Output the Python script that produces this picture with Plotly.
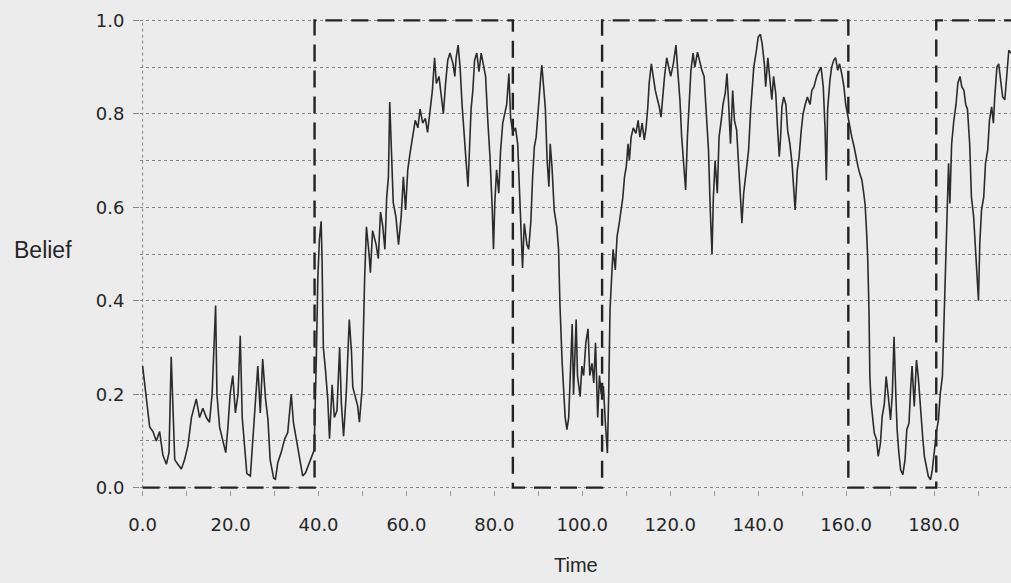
import plotly.graph_objects as go

# Posterior belief trace over time
time = [
    0.0, 0.8, 1.6, 2.35, 3.1, 3.86, 4.6, 5.4, 6.0, 6.5, 6.9, 7.3, 8.0, 8.8, 9.55,
    10.3, 11.1, 12.2, 12.95, 13.7, 14.5, 15.2, 15.8, 16.6, 16.9, 17.5, 18.25, 18.9,
    19.4, 19.9, 20.5, 21.1, 21.7, 22.2, 22.65, 23.2, 23.7, 24.5, 25.1, 25.8, 26.2,
    26.75, 27.3, 27.95, 28.5, 29.0, 29.8, 30.2, 30.75, 31.5, 32.3, 33.0, 33.8, 34.3,
    34.9, 35.7, 36.4, 37.05, 37.6, 38.3, 39.0, 39.5, 39.85, 40.2, 40.6, 40.8, 41.1,
    41.6, 42.1, 42.5, 43.1, 43.6, 44.2, 44.8, 45.2, 45.7, 46.3, 47.0, 47.5, 47.8,
    48.4, 48.9, 49.3, 49.9, 50.5, 50.9, 51.5, 51.8, 52.3, 53.1, 53.6, 54.1, 54.6,
    55.1, 55.5, 55.9, 56.2, 56.6, 57.0, 57.6, 58.2, 58.8, 59.3, 59.8, 60.3, 60.8,
    61.4, 62.0, 62.6, 63.1, 63.7, 64.3, 64.8, 65.4, 65.9, 66.4, 66.8, 67.4, 67.9,
    68.4, 68.9, 69.4, 69.9, 70.6, 71.0, 71.3, 71.75, 72.2, 72.65, 73.2, 73.6, 74.0,
    74.3, 74.7, 75.1, 75.5, 76.0, 76.5, 77.0, 77.5, 78.0, 78.5, 79.0, 79.5, 79.8,
    80.1, 80.5, 81.0, 81.4, 81.9, 82.4, 82.8, 83.3, 83.7, 84.2, 84.8, 85.3, 85.7,
    86.0, 86.4, 86.8, 87.4, 87.8, 88.3, 88.7, 89.1, 89.5, 89.9, 90.2, 90.6, 90.8,
    91.2, 91.6, 92.0, 92.4, 92.7, 93.1, 93.6, 94.2, 94.6, 94.9, 95.4, 95.8, 96.1,
    96.5, 96.9, 97.3, 97.7, 98.0, 98.6, 98.9, 99.5, 99.9, 100.3, 100.8, 101.3,
    101.7, 102.2, 102.6, 103.0, 103.5, 103.9, 104.3, 104.8, 105.2, 105.7, 106.0,
    106.3, 106.6, 107.0, 107.5, 107.9, 108.4, 108.8, 109.2, 109.6, 110.0, 110.4,
    110.7, 111.1, 111.6, 112.2, 112.7, 113.1, 113.6, 114.1, 114.5, 114.9, 115.2,
    115.7, 116.1, 116.6, 117.1, 117.5, 117.9, 118.3, 118.7, 119.2, 119.6, 120.1,
    120.7, 121.3, 121.7, 122.2, 122.6, 123.0, 123.5, 123.9, 124.3, 124.7, 125.2,
    125.6, 126.2, 126.6, 127.2, 127.7, 128.2, 128.7, 129.1, 129.5, 129.8, 130.2,
    130.7, 131.1, 131.6, 132.0, 132.5, 132.9, 133.2, 133.7, 134.2, 134.6, 135.1,
    135.5, 136.0, 136.3, 136.7, 137.2, 137.8, 138.3, 138.7, 139.0, 139.6, 140.0,
    140.5, 140.9, 141.4, 141.7, 142.2, 142.6, 143.1, 143.5, 144.0, 144.4, 144.8,
    145.1, 145.4, 145.8, 146.3, 146.7, 147.2, 147.7, 148.0, 148.4, 148.9, 149.3,
    149.8, 150.2, 150.7, 151.2, 151.8, 152.2, 152.7, 153.3, 153.9, 154.3, 154.8,
    155.2, 155.5, 155.8, 156.3, 156.7, 157.2, 157.6, 158.1, 158.5, 159.0, 159.5,
    159.9, 160.4, 160.9, 161.3, 161.8, 162.2, 162.7, 163.1, 163.6, 164.0, 164.3,
    164.6, 164.9, 165.2, 165.4, 165.7, 166.0, 166.4, 166.9, 167.3, 167.8, 168.2,
    168.7, 169.1, 169.6, 170.1, 170.5, 170.9, 171.3, 171.6, 172.0, 172.4, 172.9,
    173.4, 173.8, 174.3, 174.7, 175.0, 175.5, 176.0, 176.4, 176.9, 177.4, 177.8,
    178.3, 178.7, 179.2, 179.6, 180.1, 180.5, 181.0, 181.4, 181.9, 182.3, 182.7,
    183.0, 183.3, 183.6, 184.0, 184.5, 185.0, 185.4, 185.9, 186.3, 186.8, 187.2,
    187.6, 188.1, 188.5, 189.0, 189.4, 189.8, 190.1, 190.4, 190.8, 191.3, 191.7,
    192.2, 192.6, 193.1, 193.5, 193.8, 194.3, 194.7, 195.2, 195.6, 196.1, 196.5,
    197.0, 197.5,
]
belief = [
    0.26, 0.20, 0.13, 0.12, 0.10, 0.12, 0.07, 0.05, 0.075, 0.28, 0.15, 0.06, 0.05,
    0.04, 0.06, 0.09, 0.15, 0.19, 0.15, 0.17, 0.15, 0.14, 0.20, 0.39, 0.20, 0.13,
    0.10, 0.075, 0.13, 0.20, 0.24, 0.16, 0.20, 0.325, 0.15, 0.075, 0.03, 0.025,
    0.104, 0.20, 0.26, 0.16, 0.275, 0.19, 0.146, 0.06, 0.02, 0.018, 0.054, 0.075,
    0.104, 0.118, 0.20, 0.139, 0.104, 0.06, 0.025, 0.032, 0.046, 0.06, 0.08, 0.275,
    0.45, 0.53, 0.57, 0.49, 0.30, 0.25, 0.19, 0.105, 0.22, 0.15, 0.165, 0.30, 0.18,
    0.11, 0.20, 0.36, 0.29, 0.215, 0.195, 0.175, 0.14, 0.21, 0.45, 0.558, 0.50,
    0.46, 0.55, 0.52, 0.49, 0.59, 0.56, 0.51, 0.62, 0.665, 0.825, 0.70, 0.61, 0.58,
    0.52, 0.58, 0.665, 0.594, 0.68, 0.715, 0.75, 0.786, 0.77, 0.81, 0.78, 0.79,
    0.76, 0.81, 0.85, 0.92, 0.865, 0.88, 0.836, 0.80, 0.865, 0.915, 0.93, 0.907,
    0.88, 0.92, 0.947, 0.90, 0.82, 0.736, 0.694, 0.644, 0.736, 0.81, 0.85, 0.915,
    0.93, 0.89, 0.93, 0.90, 0.88, 0.786, 0.708, 0.60, 0.51, 0.61, 0.68, 0.63, 0.72,
    0.78, 0.80, 0.82, 0.886, 0.79, 0.76, 0.77, 0.736, 0.65, 0.55, 0.47, 0.565,
    0.52, 0.51, 0.57, 0.665, 0.73, 0.75, 0.81, 0.836, 0.886, 0.904, 0.858, 0.81,
    0.70, 0.644, 0.736, 0.687, 0.594, 0.558, 0.51, 0.395, 0.27, 0.20, 0.15, 0.124,
    0.15, 0.25, 0.35, 0.20, 0.36, 0.24, 0.195, 0.26, 0.24, 0.31, 0.34, 0.24, 0.266,
    0.224, 0.31, 0.15, 0.24, 0.20, 0.217, 0.145, 0.074, 0.20, 0.38, 0.437, 0.51,
    0.466, 0.537, 0.566, 0.594, 0.62, 0.665, 0.687, 0.736, 0.70, 0.75, 0.77, 0.758,
    0.786, 0.75, 0.78, 0.744, 0.77, 0.815, 0.865, 0.907, 0.88, 0.85, 0.83, 0.815,
    0.793, 0.843, 0.88, 0.92, 0.90, 0.88, 0.907, 0.947, 0.893, 0.83, 0.75, 0.70,
    0.637, 0.75, 0.82, 0.893, 0.93, 0.90, 0.932, 0.915, 0.893, 0.88, 0.786, 0.722,
    0.594, 0.50, 0.62, 0.70, 0.63, 0.75, 0.786, 0.82, 0.843, 0.886, 0.836, 0.736,
    0.85, 0.786, 0.765, 0.694, 0.594, 0.566, 0.63, 0.67, 0.72, 0.81, 0.87, 0.90,
    0.936, 0.964, 0.97, 0.95, 0.907, 0.858, 0.92, 0.88, 0.83, 0.88, 0.843, 0.77,
    0.708, 0.75, 0.815, 0.836, 0.82, 0.765, 0.736, 0.694, 0.65, 0.594, 0.68, 0.708,
    0.765, 0.80, 0.82, 0.836, 0.82, 0.85, 0.858, 0.88, 0.893, 0.90, 0.858, 0.77,
    0.658, 0.81, 0.87, 0.90, 0.915, 0.92, 0.893, 0.907, 0.886, 0.858, 0.82, 0.793,
    0.765, 0.75, 0.73, 0.708, 0.687, 0.672, 0.658, 0.63, 0.608, 0.558, 0.494, 0.38,
    0.238, 0.18, 0.145, 0.117, 0.103, 0.067, 0.095, 0.152, 0.18, 0.238, 0.195,
    0.145, 0.20, 0.323, 0.20, 0.124, 0.074, 0.038, 0.028, 0.06, 0.124, 0.138, 0.217,
    0.26, 0.174, 0.273, 0.238, 0.167, 0.11, 0.067, 0.038, 0.024, 0.017, 0.038,
    0.081, 0.117, 0.145, 0.20, 0.238, 0.38, 0.523, 0.622, 0.694, 0.608, 0.736,
    0.786, 0.82, 0.865, 0.88, 0.858, 0.85, 0.82, 0.81, 0.736, 0.622, 0.58, 0.523,
    0.466, 0.40, 0.523, 0.594, 0.622, 0.694, 0.722, 0.786, 0.815, 0.78, 0.836, 0.90,
    0.907, 0.865, 0.836, 0.83, 0.88, 0.936, 0.93,
]

# True hidden state (0/1) and the times at which it switches
switch_times = [0, 39.1, 84.2, 104.5, 160.5, 180.5, 200]
true_state = [0, 1, 0, 1, 0, 1, 1]

x_ticks = [0, 20, 40, 60, 80, 100, 120, 140, 160, 180]
y_ticks = [0.0, 0.2, 0.4, 0.6, 0.8, 1.0]

BG = "#ececec"
GRID = "#858585"
INK = "#262626"
FONT = "DejaVu Sans"
LABEL_FONT = "Liberation Sans"

fig = go.Figure()

fig.add_trace(go.Scatter(
    x=switch_times, y=true_state, mode="lines",
    line=dict(shape="hv", color="#222222", width=2.4, dash="17px,9px"),
    hoverinfo="skip", showlegend=False,
))
fig.add_trace(go.Scatter(
    x=time, y=belief, mode="lines",
    line=dict(color="#2b2b2b", width=1.6),
    showlegend=False,
))

# dotted vertical axis line at t = 0
fig.add_shape(type="line", xref="x", yref="y", x0=0, x1=0, y0=0, y1=1,
              line=dict(color=GRID, width=1, dash="dot"), layer="below")

fig.update_xaxes(
    range=[-0.6, 197.5],
    tickvals=x_ticks, ticktext=[f"{v:.1f}" for v in x_ticks],
    ticks="outside", ticklen=5, tickcolor="#9a9a9a", tickwidth=1,
    minor=dict(dtick=10, tick0=0, ticks="outside", ticklen=5, tickcolor="#9a9a9a", showgrid=False),
    showgrid=False, zeroline=False, showline=False,
    ticklabelstandoff=13,
    tickfont=dict(family=FONT, size=18, color=INK),
)
fig.update_yaxes(
    range=[-0.005, 1.005],
    tickvals=y_ticks, ticktext=[f"{v:.1f}" for v in y_ticks],
    ticks="outside", ticklen=6, tickcolor=GRID, tickwidth=1,
    showgrid=True, gridcolor=GRID, griddash="dot", gridwidth=1,
    minor=dict(dtick=0.1, tick0=0, showgrid=True, gridcolor=GRID, griddash="dot", gridwidth=1),
    zeroline=False, showline=False,
    ticklabelstandoff=5,
    tickfont=dict(family=FONT, size=18, color=INK),
)

fig.add_annotation(text="Belief", xref="paper", yref="paper", x=-0.111, y=0.508,
                   showarrow=False, xanchor="center", yanchor="middle",
                   font=dict(family=LABEL_FONT, size=23, color=INK))
fig.add_annotation(text="Time", xref="paper", yref="paper", x=0.5006, y=-0.159,
                   showarrow=False, xanchor="center", yanchor="middle",
                   font=dict(family=LABEL_FONT, size=20, color=INK))

fig.update_layout(
    width=1011, height=583,
    margin=dict(l=140, r=0, t=18, b=93),
    paper_bgcolor=BG, plot_bgcolor=BG,
)

fig.write_html("out.html")
